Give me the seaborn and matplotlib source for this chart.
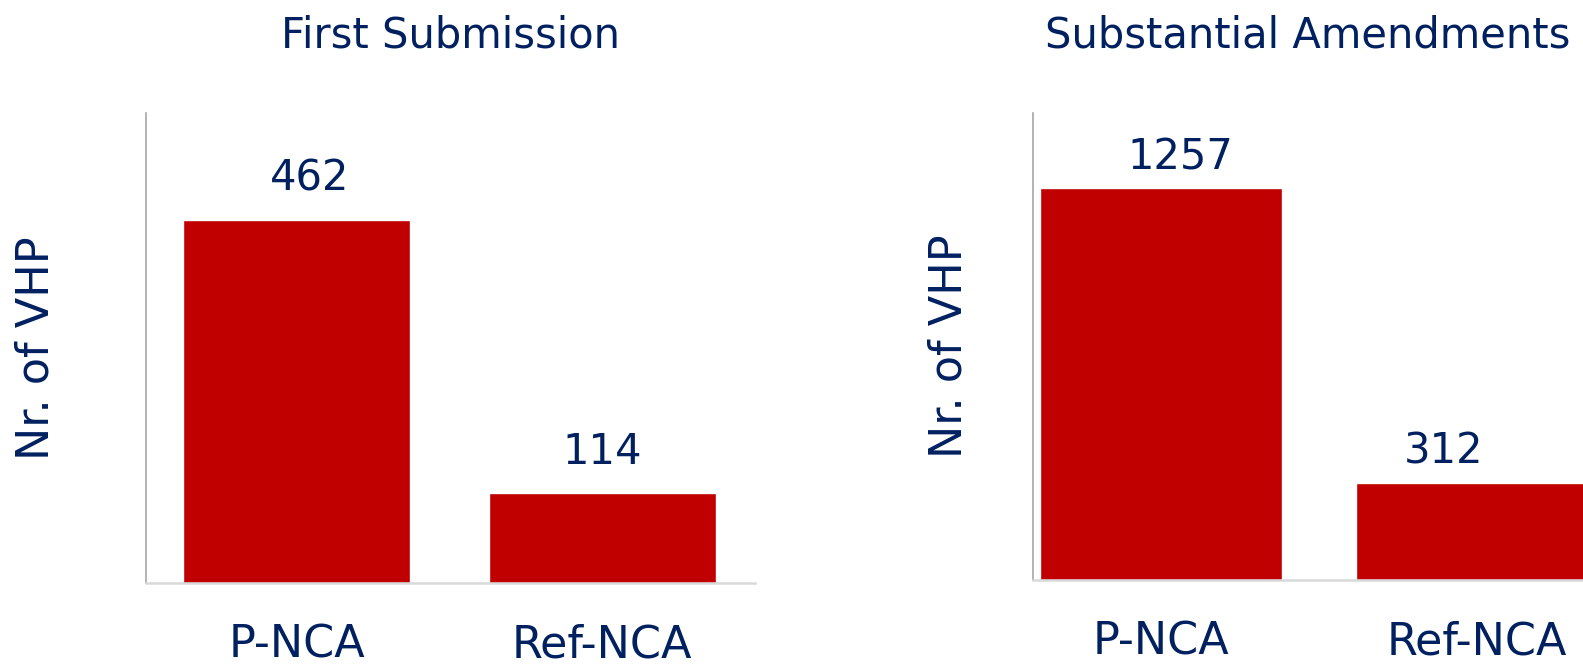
import matplotlib
matplotlib.use("Agg")
import matplotlib.pyplot as plt
import seaborn as sns
import pandas as pd

categories = ["P-NCA", "Ref-NCA"]
first_submission = [462, 114]
substantial_amendments = [1257, 312]
titles = ["First Submission", "Substantial Amendments"]

RED = "#C00000"
NAVY = "#002060"

sns.set_style("white")
plt.rcParams['font.family'] = ['DejaVu Sans']

W, H = 1583, 667
fig = plt.figure(figsize=(W / 100, H / 100), dpi=100)

# axes boxes in pixels: left, bottom, right, top
ax1 = fig.add_axes([146 / W, 1 - 583 / H, 609 / W, 470 / H])
ax2 = fig.add_axes([1033 / W, 1 - 580 / H, 550 / W, 467 / H])


def draw_panel(ax, values, title, ymax, xlim, width, label_pad, label_dx, ylabel_pad):
  df = pd.DataFrame({"cat": categories, "val": values})
  sns.barplot(data=df, x="cat", y="val", color=RED, saturation=1, width=width, ax=ax)
  labels = ax.bar_label(ax.containers[0], padding=label_pad, fontsize=30, color=NAVY)
  # nudge value labels sideways like the original
  for ann, dx in zip(labels, label_dx):
    ann.xyann = (dx, label_pad)
  ax.set_ylim(0, ymax)
  ax.set_xlim(*xlim)
  ax.set_yticks([])
  ax.set_title(title, fontsize=30, color=NAVY, pad=47)
  ax.set_ylabel("Nr. of VHP", fontsize=32, color=NAVY, labelpad=ylabel_pad)
  ax.set_xlabel("")
  ax.tick_params(axis="x", length=0, pad=29, labelsize=32, labelcolor=NAVY)
  for side in ["top", "right"]:
    ax.spines[side].set_visible(False)
  ax.spines["left"].set_color("#A6A6A6")
  ax.spines["left"].set_linewidth(1.2)
  ax.spines["bottom"].set_color("#D9D9D9")
  ax.spines["bottom"].set_linewidth(1.8)


draw_panel(ax1, first_submission, titles[0], 598, (-0.493, 1.50), 0.743, 15, (9, 0), 64)
draw_panel(ax2, substantial_amendments, titles[1], 1497, (-0.405, 1.335), 0.766, 7, (14, -24), 45)

fig.savefig("out.png", dpi=100)
